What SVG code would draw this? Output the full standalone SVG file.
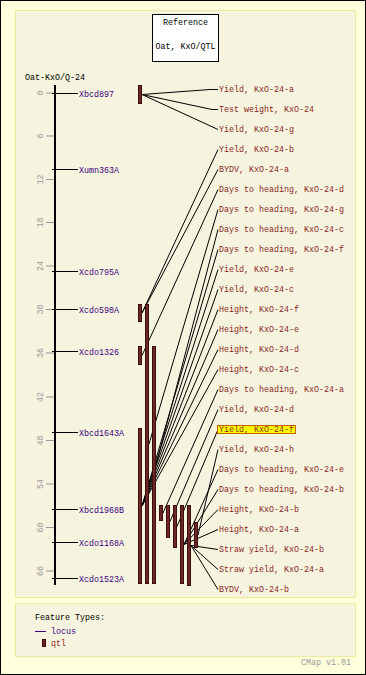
<svg xmlns="http://www.w3.org/2000/svg" width="366" height="675" viewBox="0 0 366 675">
<style>
text{font-family:"Liberation Mono","DejaVu Sans Mono",monospace;font-size:8.33px}
.lab{fill:#8b1f1f}
.mk{fill:#400080}
.tk{fill:#999;font-size:7.5px}
.qtl{fill:#6e2727;stroke:#3c0d0d;stroke-width:1}
.con line,.con polyline{stroke:#000;stroke-width:1;fill:none}
.mline{stroke:#000;stroke-width:1}
.tick{stroke:#999;stroke-width:1}
</style>
<rect x="0.5" y="0.5" width="365" height="674" fill="#ffffdc" stroke="#000"/>
<rect x="15.5" y="10.5" width="340" height="587" fill="#f6f4df" stroke="#ecea9c"/>
<rect x="15.5" y="603.5" width="340" height="53" fill="#f6f4df" stroke="#ecea9c"/>
<g id="title">
<rect x="152.5" y="14.5" width="66" height="47" fill="#fff" stroke="#000"/>
<text x="185.5" y="25" text-anchor="middle">Reference</text>
<text x="185.5" y="49" text-anchor="middle">Oat, KxO/QTL</text>
</g>
<text x="25" y="80">Oat-KxO/Q-24</text>
<g id="axis">
<line x1="55" y1="85" x2="55" y2="585" stroke="#000" stroke-width="2"/>
<g class="tick">
<line x1="46" y1="93" x2="54" y2="93"/><line x1="46" y1="136" x2="54" y2="136"/><line x1="46" y1="179.5" x2="54" y2="179.5"/><line x1="46" y1="222.5" x2="54" y2="222.5"/><line x1="46" y1="266" x2="54" y2="266"/><line x1="46" y1="309.5" x2="54" y2="309.5"/><line x1="46" y1="353" x2="54" y2="353"/><line x1="46" y1="397" x2="54" y2="397"/><line x1="46" y1="440.5" x2="54" y2="440.5"/><line x1="46" y1="484" x2="54" y2="484"/><line x1="46" y1="527.5" x2="54" y2="527.5"/><line x1="46" y1="571" x2="54" y2="571"/>
</g>
<g class="tk" text-anchor="middle">
<text transform="translate(43,93) rotate(-90)">0</text>
<text transform="translate(43,136) rotate(-90)">6</text>
<text transform="translate(43,179.5) rotate(-90)">12</text>
<text transform="translate(43,222.5) rotate(-90)">18</text>
<text transform="translate(43,266) rotate(-90)">24</text>
<text transform="translate(43,309.5) rotate(-90)">30</text>
<text transform="translate(43,353) rotate(-90)">36</text>
<text transform="translate(43,397) rotate(-90)">42</text>
<text transform="translate(43,440.5) rotate(-90)">48</text>
<text transform="translate(43,484) rotate(-90)">54</text>
<text transform="translate(43,527.5) rotate(-90)">60</text>
<text transform="translate(43,571) rotate(-90)">66</text>
</g>
</g>
<g id="markers">
<g id="m-Xbcd897"><line class="mline" x1="52" y1="93.5" x2="78" y2="93.5"/><text class="mk" x="79" y="96.5">Xbcd897</text></g>
<g id="m-Xumn363A"><line class="mline" x1="52" y1="169.5" x2="78" y2="169.5"/><text class="mk" x="79" y="172.5">Xumn363A</text></g>
<g id="m-Xcdo795A"><line class="mline" x1="52" y1="271.5" x2="78" y2="271.5"/><text class="mk" x="79" y="274.5">Xcdo795A</text></g>
<g id="m-Xcdo590A"><line class="mline" x1="52" y1="309.5" x2="78" y2="309.5"/><text class="mk" x="79" y="312.5">Xcdo590A</text></g>
<g id="m-Xcdo1326"><line class="mline" x1="52" y1="351.5" x2="78" y2="351.5"/><text class="mk" x="79" y="354.5">Xcdo1326</text></g>
<g id="m-Xbcd1643A"><line class="mline" x1="52" y1="432.5" x2="78" y2="432.5"/><text class="mk" x="79" y="435.5">Xbcd1643A</text></g>
<g id="m-Xbcd1968B"><line class="mline" x1="52" y1="509.5" x2="78" y2="509.5"/><text class="mk" x="79" y="512.5">Xbcd1968B</text></g>
<g id="m-Xcdo1168A"><line class="mline" x1="52" y1="542.5" x2="78" y2="542.5"/><text class="mk" x="79" y="545.5">Xcdo1168A</text></g>
<g id="m-Xcdo1523A"><line class="mline" x1="52" y1="578.5" x2="78" y2="578.5"/><text class="mk" x="79" y="581.5">Xcdo1523A</text></g>
</g>
<g id="connectors" class="con">
<polyline points="142,94.5 210,89.5 218,89.5"/>
<polyline points="142,94.5 212,109.5 218,109.5"/>
<line x1="142" y1="94.5" x2="218" y2="129.5"/>
<line x1="142" y1="313" x2="218" y2="149.5"/>
<line x1="142" y1="313" x2="218" y2="169.5"/>
<line x1="142" y1="355.5" x2="218" y2="189.5"/>
<line x1="149" y1="444" x2="218" y2="209.5"/>
<line x1="156" y1="465" x2="218" y2="229.5"/>
<line x1="142" y1="506" x2="218" y2="249.5"/>
<line x1="142" y1="506" x2="218" y2="269.5"/>
<line x1="142" y1="506" x2="218" y2="289.5"/>
<line x1="142" y1="506" x2="218" y2="309.5"/>
<line x1="142" y1="506" x2="218" y2="329.5"/>
<line x1="142" y1="506" x2="218" y2="349.5"/>
<line x1="142" y1="506" x2="218" y2="369.5"/>
<line x1="163" y1="513" x2="218" y2="389.5"/>
<line x1="170" y1="521.5" x2="218" y2="409.5"/>
<line x1="177" y1="526.5" x2="218" y2="429.5"/>
<line x1="198" y1="535" x2="218" y2="449.5"/>
<line x1="184" y1="544.5" x2="218" y2="469.5"/>
<line x1="184" y1="544.5" x2="218" y2="489.5"/>
<line x1="184" y1="544.5" x2="218" y2="509.5"/>
<line x1="184" y1="544.5" x2="218" y2="529.5"/>
<line x1="191" y1="545.5" x2="218" y2="549.5"/>
<line x1="191" y1="545.5" x2="218" y2="569.5"/>
<line x1="191" y1="545.5" x2="218" y2="589.5"/>
</g>
<g id="qtls">
<rect id="q-top" class="qtl" x="138.5" y="85.5" width="3" height="18"/>
<rect id="q-A" class="qtl" x="138.5" y="304.5" width="3" height="17"/>
<rect id="q-C" class="qtl" x="138.5" y="346.5" width="3" height="18"/>
<rect id="q-E" class="qtl" x="138.5" y="428.5" width="3" height="155"/>
<rect id="q-B" class="qtl" x="145.5" y="304.5" width="3" height="279"/>
<rect id="q-D" class="qtl" x="152.5" y="346.5" width="3" height="237"/>
<rect id="q-F" class="qtl" x="159.5" y="505.5" width="3" height="15"/>
<rect id="q-G" class="qtl" x="166.5" y="505.5" width="3" height="32"/>
<rect id="q-H" class="qtl" x="173.5" y="505.5" width="3" height="42"/>
<rect id="q-I" class="qtl" x="180.5" y="505.5" width="3" height="78"/>
<rect id="q-J" class="qtl" x="187.5" y="505.5" width="3" height="80"/>
<rect id="q-K" class="qtl" x="194.5" y="522.5" width="3" height="25"/>
</g>
<g id="labels" class="lab">
<text x="219" y="92">Yield, KxO-24-a</text>
<text x="219" y="112">Test weight, KxO-24</text>
<text x="219" y="132">Yield, KxO-24-g</text>
<text x="219" y="152">Yield, KxO-24-b</text>
<text x="219" y="172">BYDV, KxO-24-a</text>
<text x="219" y="192">Days to heading, KxO-24-d</text>
<text x="219" y="212">Days to heading, KxO-24-g</text>
<text x="219" y="232">Days to heading, KxO-24-c</text>
<text x="219" y="252">Days to heading, KxO-24-f</text>
<text x="219" y="272">Yield, KxO-24-e</text>
<text x="219" y="292">Yield, KxO-24-c</text>
<text x="219" y="312">Height, KxO-24-f</text>
<text x="219" y="332">Height, KxO-24-e</text>
<text x="219" y="352">Height, KxO-24-d</text>
<text x="219" y="372">Height, KxO-24-c</text>
<text x="219" y="392">Days to heading, KxO-24-a</text>
<text x="219" y="412">Yield, KxO-24-d</text>
<rect x="217.5" y="425.5" width="78" height="8" fill="#ffff00" stroke="#c86400"/>
<text x="219" y="432">Yield, KxO-24-f</text>
<text x="219" y="452">Yield, KxO-24-h</text>
<text x="219" y="472">Days to heading, KxO-24-e</text>
<text x="219" y="492">Days to heading, KxO-24-b</text>
<text x="219" y="512">Height, KxO-24-b</text>
<text x="219" y="532">Height, KxO-24-a</text>
<text x="219" y="552">Straw yield, KxO-24-b</text>
<text x="219" y="572">Straw yield, KxO-24-a</text>
<text x="219" y="592">BYDV, KxO-24-b</text>
</g>
<g id="legend">
<text x="35" y="620" fill="#000">Feature Types:</text>
<line x1="35" y1="631.5" x2="46" y2="631.5" stroke="#400080"/>
<text class="mk" x="51" y="634">locus</text>
<rect class="qtl" x="42.5" y="639.5" width="3" height="7"/>
<text class="lab" x="51" y="646">qtl</text>
<text x="301" y="665" fill="#999">CMap v1.01</text>
</g>
</svg>
